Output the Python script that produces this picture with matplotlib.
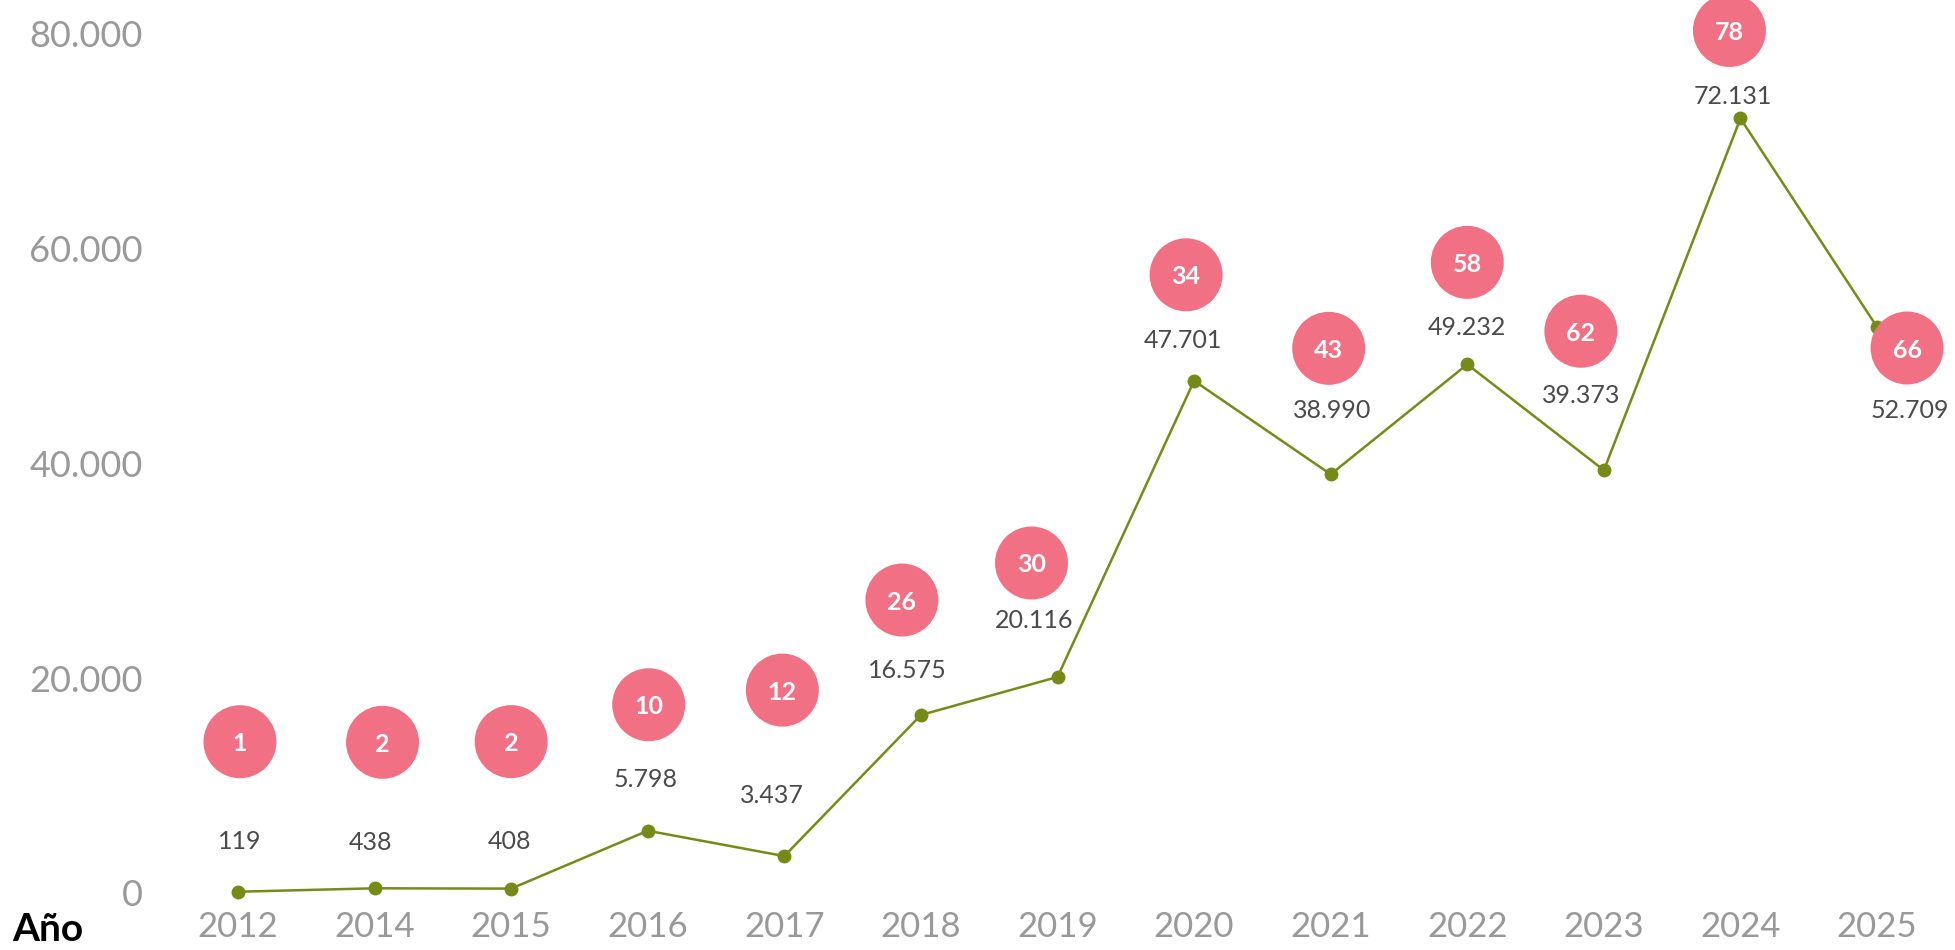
import matplotlib.pyplot as plt
from matplotlib.transforms import offset_copy
from matplotlib.ticker import FuncFormatter

plt.rcParams['font.family'] = ['Lato', 'DejaVu Sans']

# datos
anios = ['2012', '2014', '2015', '2016', '2017', '2018', '2019',
         '2020', '2021', '2022', '2023', '2024', '2025']
visitas = [119, 438, 408, 5798, 3437, 16575, 20116,
           47701, 38990, 49232, 39373, 72131, 52709]
casos = [1, 2, 2, 10, 12, 26, 30, 34, 43, 58, 62, 78, 66]
yticks = [0, 20000, 40000, 60000, 80000]

# desplazamientos (pixeles) de etiquetas y circulos respecto al punto
etq_dx = [2, -4, -2, -2, -12, -14, -23, -11, 1, 0, -23, -8, 33]
etq_dy = [50, 46, 47, 51, 61, 45, 56, 40, 64, 37, 75, 22, -83]
circ_dx = [2, 8, 0, 1, -2, -19, -26, -8, -2, 0, -23, -11, 30]
circ_dy = [150, 146, 147, 126, 166, 115, 114, 106, 126, 102, 139, 88, -21]

verde = '#768A18'
rosa = '#F17083'
gris = '#999999'

def miles(v, pos=None):
    return f'{v:,.0f}'.replace(',', '.')

fig = plt.figure(figsize=(19.56, 9.5), dpi=100)
ax = fig.add_axes([150 / 1956, 50 / 950, 1806 / 1956, 900 / 950])

x = list(range(len(anios)))
ax.plot(x, visitas, color=verde, lw=1.8, marker='o', ms=9, zorder=2)

ax.set_xlim(-0.644, 12.578)
ax.set_ylim(-652, 83163)
ax.set_xticks(x)
ax.set_xticklabels(anios)
ax.set_yticks(yticks)
ax.yaxis.set_major_formatter(FuncFormatter(miles))
ax.tick_params(axis='both', length=0, colors=gris, labelsize=25)
ax.tick_params(axis='x', pad=8)
ax.tick_params(axis='y', pad=5, labelsize=26)
for s in ax.spines.values():
    s.set_visible(False)

for i, v in enumerate(visitas):
    ax.annotate(miles(v), (i, v), xytext=(etq_dx[i], etq_dy[i]),
                textcoords='offset pixels', ha='center', va='center',
                fontsize=18, color='#4a4a4a', fontweight='normal',
                annotation_clip=False, zorder=3)
    tr = offset_copy(ax.transData, fig=fig, x=circ_dx[i], y=circ_dy[i], units='dots')
    ax.scatter([i], [v], s=2762, color=rosa, edgecolors='none',
               transform=tr, zorder=4, clip_on=False)
    ax.text(i, v, str(casos[i]), transform=tr, ha='center', va='center_baseline',
            color='white', fontsize=18, fontweight='bold', zorder=5)

fig.text(12 / 1956, 1 - 941 / 950, 'Año', fontsize=28, fontweight='bold',
         color='black', ha='left', va='baseline')

fig.savefig('out.png', dpi=100)
